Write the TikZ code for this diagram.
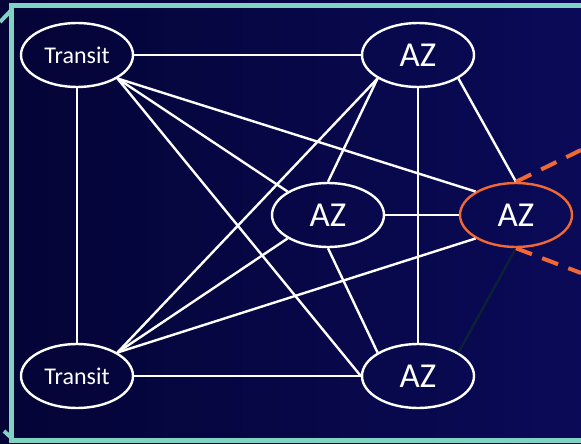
\documentclass[tikz,border=0pt]{standalone}
\usepackage{fontspec}
\setmainfont{Carlito}
\usetikzlibrary{shapes.geometric}
\definecolor{teal1}{RGB}{127,211,195}
\definecolor{bgL}{RGB}{4,4,54}
\definecolor{bgR}{RGB}{10,10,88}
\definecolor{orng}{RGB}{242,104,52}
\definecolor{darkln}{RGB}{14,32,54}
\begin{document}
\begin{tikzpicture}[x=1pt,y=-1pt,
  netnode/.style={ellipse,draw=white,line width=2.4pt,minimum width=112pt,minimum height=64pt,inner sep=0pt,text=white},
  transit/.style={netnode,font=\fontsize{24}{28}\selectfont},
  aznode/.style={netnode,font=\fontsize{35}{40}\selectfont},
  link/.style={white,line width=2.4pt},
  darklink/.style={darkln,line width=2.4pt},
  orlink/.style={orng,line width=4pt,dash pattern=on 17pt off 11pt},
  frame/.style={teal1,line width=5pt}]
\useasboundingbox (0,0) rectangle (581,444);
\shade[left color=bgL,right color=bgR] (0,0) rectangle (581,444);
% frame
\draw[frame] (581,5.5) -- (11.5,5.5) -- (11.5,440) -- (581,440);
\draw[teal1,line width=4pt] (0,22) -- (11.5,10);
\draw[teal1,line width=4pt] (4,431) -- (11.5,438);
% nodes
\node[transit] (tt) at (77,55) {Transit};
\node[transit] (tb) at (77,376) {Transit};
\node[aznode] (a1) at (418,55) {AZ};
\node[aznode] (a2) at (328,215) {AZ};
\node[aznode,draw=orng] (a3) at (516,215) {AZ};
\node[aznode] (a4) at (418,376) {AZ};
\coordinate (o1) at (581,150);
\coordinate (o2) at (581,273);
% links
\draw[link] (tt.east) -- (a1.west);
\draw[link] (tt.south) -- (tb.north);
\draw[link] (tt.south east) -- (a3.north west);
\draw[link] (tt.south east) -- (a2.north west);
\draw[link] (tt.south east) -- (a4.west);
\draw[link] (tb.east) -- (a4.west);
\draw[link] (tb.north east) -- (a1.south west);
\draw[link] (tb.north east) -- (a2.south west);
\draw[link] (tb.north east) -- (a3.south west);
\draw[link] (a1.south west) -- (a2.north);
\draw[link] (a1.south east) -- (a3.north);
\draw[link] (a1.south) -- (a4.north);
\draw[link] (a2.east) -- (a3.west);
\draw[link] (a2.south) -- (a4.north west);
\draw[darklink] (a3.south) -- (a4.north east);
\draw[orlink] (a3.north) -- (o1);
\draw[orlink] (a3.south) -- (o2);
\end{tikzpicture}
\end{document}
